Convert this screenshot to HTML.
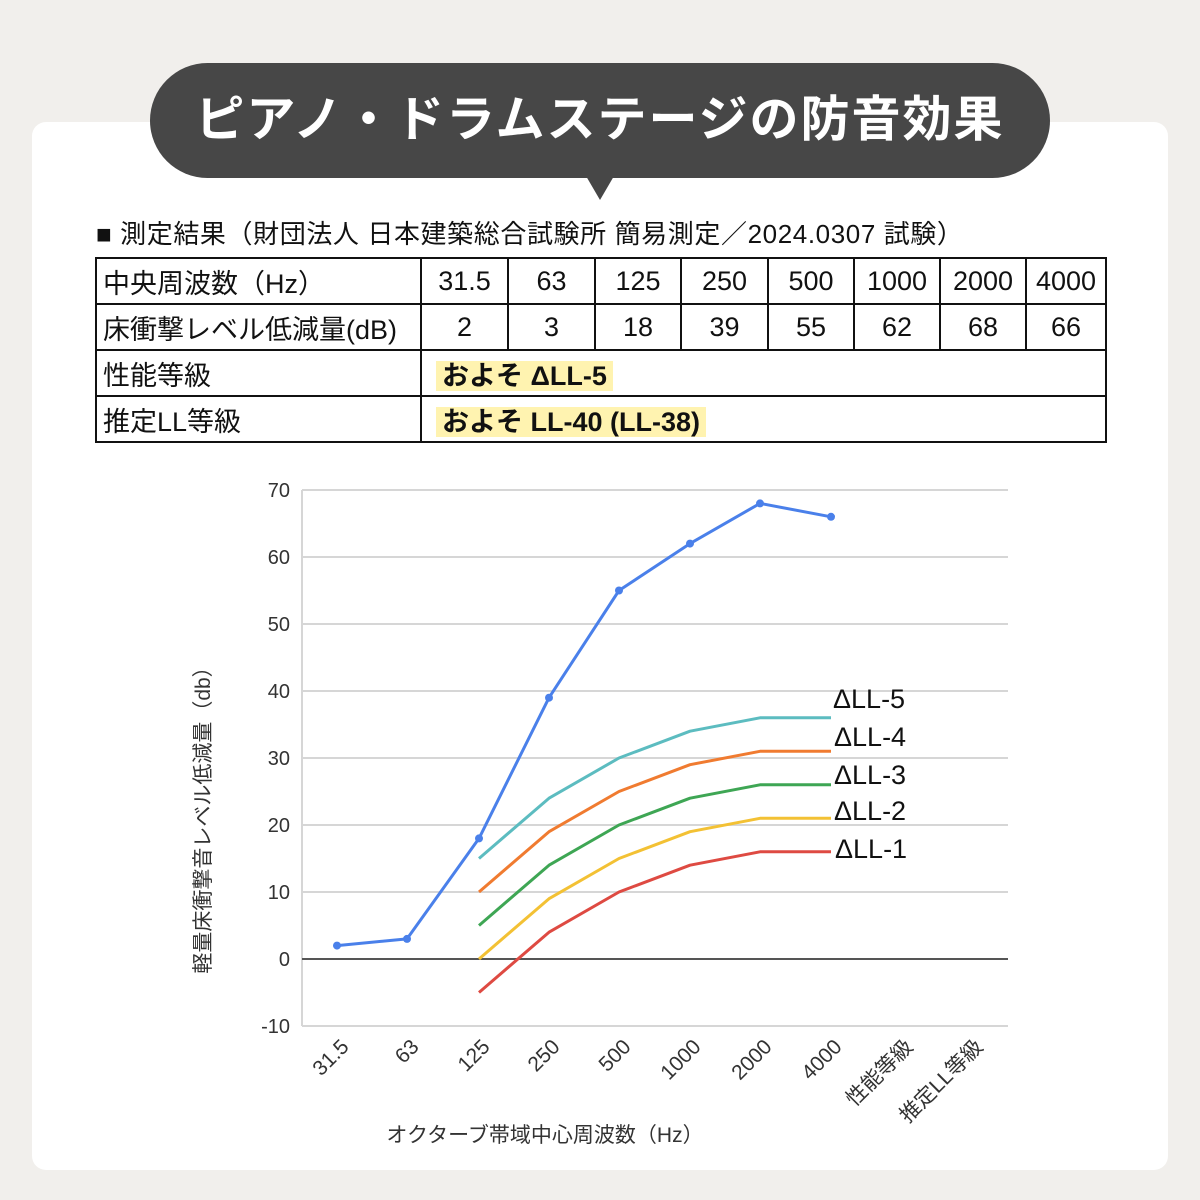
<!DOCTYPE html>
<html><head><meta charset="utf-8"><style>
body{margin:0;width:1200px;height:1200px;background:#f1efec;font-family:"Liberation Sans","Noto Sans CJK JP",sans-serif;position:relative;overflow:hidden}
.card{position:absolute;left:32px;top:122px;width:1136px;height:1048px;background:#fff;border-radius:14px}
.bub{position:absolute;left:150px;top:63px;width:900px;height:115px;background:#474747;border-radius:58px;color:#fff;font-size:49px;font-weight:bold;text-align:center;line-height:115px;letter-spacing:2px}
.tri{position:absolute;left:586px;top:176px;width:0;height:0;border-left:14px solid transparent;border-right:14px solid transparent;border-top:24px solid #474747}
.cap{position:absolute;left:96px;top:214px;font-size:26px;color:#111;letter-spacing:0.6px;white-space:nowrap}
table{position:absolute;left:95px;top:257px;width:1010px;table-layout:fixed;border-collapse:collapse;font-size:27px;color:#111}
td{border:2px solid #111;height:46px;padding:0 4px;text-align:center;box-sizing:border-box;white-space:nowrap;overflow:hidden}
td.l{text-align:left;padding-left:6px}
.hl{background:#fff3b0;font-weight:bold;padding:0 6px}
</style></head><body>
<div class="card"></div>
<div class="bub">ピアノ・ドラムステージの防音効果</div>
<div class="tri"></div>
<div class="cap">■ 測定結果（財団法人 日本建築総合試験所 簡易測定／2024.0307 試験）</div>
<table>
<colgroup><col style="width:325px"><col style="width:87px"><col style="width:87px"><col style="width:86px"><col style="width:87px"><col style="width:86px"><col style="width:86px"><col style="width:86px"><col style="width:80px"></colgroup>
<tr><td class="l">中央周波数（Hz）</td><td>31.5</td><td>63</td><td>125</td><td>250</td><td>500</td><td>1000</td><td>2000</td><td>4000</td></tr>
<tr><td class="l">床衝撃レベル低減量(dB)</td><td>2</td><td>3</td><td>18</td><td>39</td><td>55</td><td>62</td><td>68</td><td>66</td></tr>
<tr><td class="l">性能等級</td><td colspan="8" class="l" style="padding-left:14px"><span class="hl">およそ ΔLL-5</span></td></tr>
<tr><td class="l">推定LL等級</td><td colspan="8" class="l" style="padding-left:14px"><span class="hl">およそ LL-40 (LL-38)</span></td></tr>
</table>
<svg width="1200" height="1200" style="position:absolute;left:0;top:0" font-family="Liberation Sans, Noto Sans CJK JP, sans-serif">
<g stroke="#d6d6d6" stroke-width="2">
<line x1="302" x2="1008" y1="490" y2="490"/><line x1="302" x2="1008" y1="557" y2="557"/><line x1="302" x2="1008" y1="624" y2="624"/><line x1="302" x2="1008" y1="691" y2="691"/><line x1="302" x2="1008" y1="758" y2="758"/><line x1="302" x2="1008" y1="825" y2="825"/><line x1="302" x2="1008" y1="892" y2="892"/><line x1="302" x2="1008" y1="1026" y2="1026"/>
<line x1="302" x2="302" y1="490" y2="1026"/>
</g>
<line x1="302" x2="1008" y1="959" y2="959" stroke="#555" stroke-width="2"/>
<g font-size="20" fill="#333" text-anchor="end">
<text x="290" y="497">70</text><text x="290" y="564">60</text><text x="290" y="631">50</text><text x="290" y="698">40</text><text x="290" y="765">30</text><text x="290" y="832">20</text><text x="290" y="899">10</text><text x="290" y="966">0</text><text x="290" y="1033">-10</text>
</g>
<g font-size="21" fill="#333" text-anchor="end">
<text transform="translate(350,1048) rotate(-45)">31.5</text>
<text transform="translate(420,1048) rotate(-45)">63</text>
<text transform="translate(491,1048) rotate(-45)">125</text>
<text transform="translate(561,1048) rotate(-45)">250</text>
<text transform="translate(632,1048) rotate(-45)">500</text>
<text transform="translate(702,1048) rotate(-45)">1000</text>
<text transform="translate(773,1048) rotate(-45)">2000</text>
<text transform="translate(843,1048) rotate(-45)">4000</text>
<text transform="translate(914,1048) rotate(-45)">性能等級</text>
<text transform="translate(984,1048) rotate(-45)">推定LL等級</text>
</g>
<text x="545" y="1142" font-size="21" fill="#333" text-anchor="middle">オクターブ帯域中心周波数（Hz）</text>
<text transform="translate(210,815) rotate(-90)" font-size="21" fill="#333" text-anchor="middle">軽量床衝撃音レベル低減量（db）</text>
<g fill="none" stroke-width="3" stroke-linejoin="round">
<polyline stroke="#5cbcc0" points="479,858.5 549,798.2 619,758 690,731.2 760,717.8 831,717.8"/>
<polyline stroke="#f07b30" points="479,892 549,831.7 619,791.5 690,764.7 760,751.3 831,751.3"/>
<polyline stroke="#3ea654" points="479,925.5 549,865.2 619,825 690,798.2 760,784.8 831,784.8"/>
<polyline stroke="#f3c134" points="479,959 549,898.7 619,858.5 690,831.7 760,818.3 831,818.3"/>
<polyline stroke="#de4a42" points="479,992.5 549,932.2 619,892 690,865.2 760,851.8 831,851.8"/>
<polyline stroke="#4a80ea" points="337,945.6 407,938.9 479,838.4 549,697.7 619,590.5 690,543.6 760,503.4 831,516.8"/>
</g>
<g fill="#4a80ea"><circle cx="337" cy="945.6" r="4"/><circle cx="407" cy="938.9" r="4"/><circle cx="479" cy="838.4" r="4"/><circle cx="549" cy="697.7" r="4"/><circle cx="619" cy="590.5" r="4"/><circle cx="690" cy="543.6" r="4"/><circle cx="760" cy="503.4" r="4"/><circle cx="831" cy="516.8" r="4"/></g>
<g font-size="27" fill="#111">
<text x="833" y="708">ΔLL-5</text><text x="834" y="746">ΔLL-4</text><text x="834" y="784">ΔLL-3</text><text x="834" y="820">ΔLL-2</text><text x="835" y="858">ΔLL-1</text>
</g>
</svg>
</body></html>
